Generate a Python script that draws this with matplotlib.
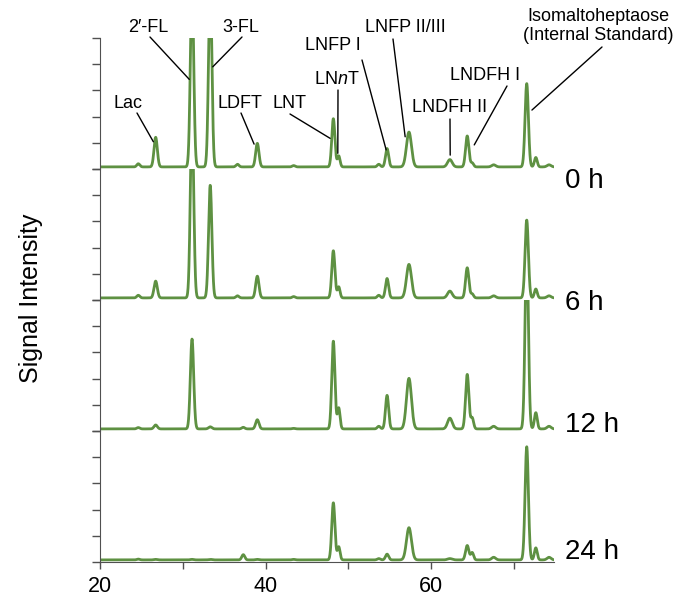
import numpy as np
import matplotlib.pyplot as plt

plt.rcParams['font.family'] = ['Liberation Sans', 'DejaVu Sans']
plt.rcParams['mathtext.fontset'] = 'custom'
plt.rcParams['mathtext.rm'] = 'Liberation Sans'
plt.rcParams['mathtext.it'] = 'Liberation Sans:italic'

# retention time of each peak (min) and its width
peak_pos = [24.6, 26.7, 31.1, 33.3, 36.6, 37.3, 39.0, 43.4, 48.2, 48.85,
            53.7, 54.7, 57.35, 62.3, 64.4, 65.0, 67.6, 71.6, 72.7, 74.3]
peak_sigma = [0.18, 0.2, 0.2, 0.2, 0.18, 0.18, 0.2, 0.18, 0.19, 0.16,
              0.18, 0.19, 0.3, 0.28, 0.2, 0.17, 0.24, 0.2, 0.17, 0.24]

times = ['0 h', '6 h', '12 h', '24 h']
# peak heights per sampling time (one tick = 1)
h_0h = [0.12, 1.13, 7.0, 7.0, 0.1, 0.0, 0.9, 0.05, 1.84, 0.42,
        0.1, 0.7, 1.33, 0.28, 1.18, 0.15, 0.08, 3.18, 0.36, 0.08]
h_6h = [0.1, 0.64, 7.0, 4.3, 0.08, 0.0, 0.83, 0.05, 1.8, 0.42,
        0.1, 0.74, 1.28, 0.26, 1.15, 0.15, 0.08, 2.97, 0.34, 0.08]
h_12h = [0.05, 0.15, 3.43, 0.08, 0.0, 0.06, 0.35, 0.02, 3.35, 0.8,
         0.1, 1.28, 1.93, 0.41, 2.08, 0.42, 0.1, 7.0, 0.62, 0.1]
h_24h = [0.03, 0.02, 0.02, 0.02, 0.0, 0.2, 0.02, 0.02, 2.18, 0.5,
         0.05, 0.22, 1.23, 0.05, 0.55, 0.28, 0.1, 4.32, 0.46, 0.1]
heights = [h_0h, h_6h, h_12h, h_24h]
baseline = 0.08

# peak labels on the 0 h trace and the peak point each line goes to
labels = ['Lac', '2\u2032-FL', '3-FL', 'LDFT', 'LNT', 'LN$\\mathit{n}$T',
          'LNFP I', 'LNFP II/III', 'LNDFH II', 'LNDFH I',
          'Isomaltoheptaose\n(Internal Standard)']
label_x = [26.42, 30.77, 33.61, 38.61, 47.81, 48.74, 54.59, 56.89,
           62.34, 65.25, 72.23]
label_y = [1.04, 3.42, 3.9, 0.95, 1.17, 0.6, 0.73, 1.23, 0.53, 0.92, 2.25]
# where the label text sits and where its line starts (pixels from top-left)
label_pix = [(128, 103), (148, 27), (241, 27), (240, 103), (289, 104),
             (337, 80), (333, 45), (405, 28), (450, 108), (485, 75), (598, 26)]
line_pix = [(137, 113), (150, 37), (242, 37), (241, 113), (290, 114),
            (338, 90), (362, 60), (393, 39), (450, 119), (507, 86), (602, 47)]
time_pix = [181, 303, 425, 552]

W, H = 681, 605
GREEN = '#5e9142'
SPINE = '#505050'


def trace(x, h):
    y = np.full_like(x, baseline)
    for p, s, a in zip(peak_pos, peak_sigma, h):
        y += a * np.exp(-0.5 * ((x - p) / s) ** 2)
    return y


def plot():
    fig = plt.figure(figsize=(W / 100, H / 100), dpi=100)
    left, right = 100.3 / W, 554 / W
    top, bot = 1 - 38 / H, 1 - 562 / H
    ph = (top - bot) / 4
    x = np.linspace(20, 74.9, 3000)
    axes = []
    for i, h in enumerate(heights):
        ax = fig.add_axes([left, top - (i + 1) * ph, right - left, ph])
        ax.plot(x, trace(x, h), color=GREEN, lw=2.0, solid_joinstyle='round')
        ax.set_xlim(20, 74.9)
        ax.set_ylim(0, 5)
        ax.set_yticks(range(6))
        ax.set_yticklabels([])
        for s in ['top', 'right']:
            ax.spines[s].set_visible(False)
        ax.spines['left'].set_color(SPINE)
        ax.tick_params(axis='y', direction='out', length=5.5, width=1, color=SPINE)
        if i < 3:
            ax.spines['bottom'].set_visible(False)
            ax.set_xticks([])
        else:
            ax.spines['bottom'].set_color(SPINE)
            ax.set_xticks([20, 40, 60])
            ax.set_xticks([30, 50, 70], minor=True)
            ax.tick_params(axis='x', which='both', direction='out', length=5,
                           width=1, color=SPINE, labelsize=15.5, pad=5)
        ax.patch.set_alpha(0)
        axes.append(ax)

    ax0 = axes[0]
    for txt, (tx, ty) in zip(labels, label_pix):
        fig.text(tx / W, 1 - ty / H, txt, ha='center', va='center',
                 fontsize=13, linespacing=1.1)
    for px, py, (lx, ly) in zip(label_x, label_y, line_pix):
        ax0.annotate('', xy=(px, py), xycoords='data',
                     xytext=(lx, H - ly), textcoords='figure pixels',
                     annotation_clip=False,
                     arrowprops=dict(arrowstyle='-', color='black', lw=1,
                                     shrinkA=0, shrinkB=0))

    for t, ty in zip(times, time_pix):
        fig.text(565 / W, 1 - ty / H, t, ha='left', va='center', fontsize=20)

    fig.text(31 / W, 1 - 298 / H, 'Signal Intensity', rotation=90,
             ha='center', va='center', fontsize=18)
    fig.savefig('out.png', dpi=100)


def main():
    plot()


if __name__ == "__main__":
    main()
